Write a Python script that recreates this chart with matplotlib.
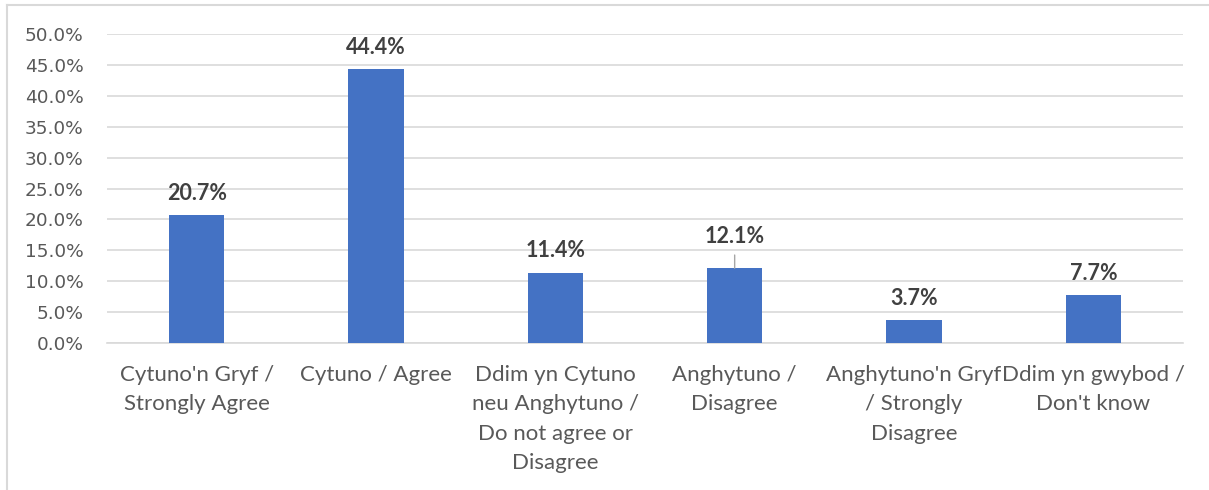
import matplotlib.pyplot as plt
from matplotlib.lines import Line2D
from matplotlib.ticker import PercentFormatter

categories = ["Cytuno'n Gryf /\nStrongly Agree",
              "Cytuno / Agree",
              "Ddim yn Cytuno\nneu Anghytuno /\nDo not agree or\nDisagree",
              "Anghytuno /\nDisagree",
              "Anghytuno'n Gryf\n/ Strongly\nDisagree",
              "Ddim yn gwybod /\nDon't know"]
values = [20.7, 44.4, 11.4, 12.1, 3.7, 7.7]
label_offsets = [0, 0, 0, 1, 0, 0]   # 12.1% label sits higher with a leader line

fig = plt.figure(figsize=(12.09, 4.9), dpi=100)
ax = fig.add_axes([0.0885, 0.3, 0.89, 0.6306])

x = range(len(values))
bars = ax.bar(x, values, width=0.31, color='#4472C4', zorder=3)

ax.set_xlim(-0.5, len(values) - 0.5)
ax.set_ylim(0, 50)
ax.set_yticks(range(0, 51, 5))
ax.yaxis.set_major_formatter(PercentFormatter(decimals=1))
ax.grid(axis='y', color='#d9d9d9', linewidth=1.2, zorder=0)
for s in ['top', 'right', 'left']:
    ax.spines[s].set_visible(False)
ax.spines['bottom'].set_color('#d9d9d9')
ax.spines['bottom'].set_linewidth(1.2)
ax.tick_params(axis='y', length=0, pad=17, labelsize=13.3, labelcolor='#595959')
ax.tick_params(axis='x', length=0, pad=15.5)
ax.set_xticks(list(x))
ax.set_xticklabels(categories, fontsize=16, color='#595959', family='Lato',
                   linespacing=1.6, va='top')

for i, (v, off) in enumerate(zip(values, label_offsets)):
    if off:
        ax.annotate(f"{v}%", xy=(i, v), xytext=(0, 15.5), textcoords='offset points',
                    ha='center', va='bottom', fontsize=15.5, fontweight='bold',
                    family='Lato', color='#404040',
                    arrowprops=dict(arrowstyle='-', color='#a6a6a6', lw=1,
                                    shrinkA=4, shrinkB=0))
    else:
        ax.annotate(f"{v}%", xy=(i, v), xytext=(0, 8), textcoords='offset points',
                    ha='center', va='bottom', fontsize=15.5, fontweight='bold',
                    family='Lato', color='#404040')

# chart frame (top and left edges visible in the crop)
fig.add_artist(Line2D([0.0055, 0.9995], [0.9905, 0.9905], color='#d9d9d9', lw=1.5))
fig.add_artist(Line2D([0.0055, 0.0055], [0.0, 0.9905], color='#d9d9d9', lw=1.5))

fig.savefig('out.png', dpi=100)
